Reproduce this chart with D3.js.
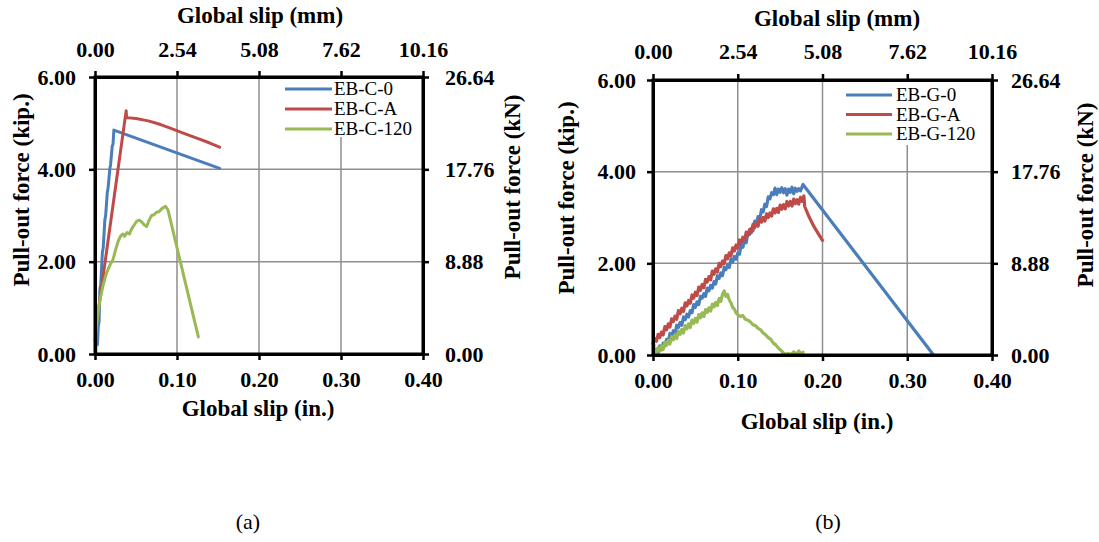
<!DOCTYPE html>
<html>
<head>
<meta charset="utf-8">
<script src="https://cdn.jsdelivr.net/npm/d3@7"></script>
<style>
  html, body { margin: 0; padding: 0; background: #fff; }
  svg { display: block; }
  text { font-family: "Liberation Serif", "Times New Roman", serif; fill: #000; }
</style>
</head>
<body>
<svg id="chart" width="1099" height="542"></svg>
<script>
// ---------- data (slip in inches, force in kip) ----------
const xTicksIn = [0, 0.1, 0.2, 0.3, 0.4];
const xTicksMm = [0, 2.54, 5.08, 7.62, 10.16];
const yTicksKip = [0, 2, 4, 6];
const yTicksKn = [0, 8.88, 17.76, 26.64];

const seriesNamesC = ["EB-C-0", "EB-C-A", "EB-C-120"];
const seriesNamesG = ["EB-G-0", "EB-G-A", "EB-G-120"];
const seriesColors = ["#4A7EBB", "#BE4B48", "#98B954"];
const extraColor = "#7D60A0";

const ebC0 = [[0.003,0.20],[0.004,0.60],[0.005,0.70],[0.006,1.40],[0.007,1.50],[0.009,2.20],[0.010,2.30],
  [0.012,2.90],[0.013,3.00],[0.015,3.50],[0.016,3.60],[0.018,4.00],[0.019,4.10],[0.021,4.50],[0.022,4.55],
  [0.023,4.85],[0.152,4.02]];
const ebCA = [[0.001,0.55],[0.038,5.27],[0.0385,5.12],[0.050,5.10],[0.065,5.05],[0.080,4.97],[0.095,4.87],
  [0.110,4.77],[0.125,4.67],[0.140,4.57],[0.152,4.48]];
const ebC120 = [[0.000,0.30],[0.003,0.80],[0.006,1.17],[0.010,1.50],[0.014,1.75],[0.018,1.92],[0.022,2.05],
  [0.025,2.25],[0.028,2.43],[0.031,2.55],[0.034,2.60],[0.036,2.55],[0.039,2.63],[0.042,2.60],[0.045,2.72],
  [0.048,2.80],[0.051,2.88],[0.054,2.90],[0.057,2.86],[0.060,2.80],[0.063,2.76],[0.066,2.90],[0.069,3.00],
  [0.072,3.02],[0.075,3.07],[0.078,3.08],[0.081,3.14],[0.084,3.18],[0.086,3.20],[0.089,3.12],[0.126,0.37]];
const ebCextra = [[0.001,0.00],[0.001,0.28]];

const ebG0 = [[0.002,0.00],[0.004,0.12],[0.006,0.05],[0.008,0.20],[0.010,0.11],[0.012,0.26],[0.014,0.20],
  [0.016,0.34],[0.018,0.29],[0.020,0.47],[0.022,0.41],[0.024,0.53],[0.026,0.47],[0.028,0.65],[0.030,0.60],
  [0.032,0.71],[0.034,0.65],[0.036,0.83],[0.038,0.77],[0.040,0.89],[0.042,0.83],[0.044,0.97],[0.046,0.92],
  [0.048,1.10],[0.050,1.04],[0.052,1.16],[0.054,1.10],[0.056,1.28],[0.058,1.24],[0.060,1.34],[0.062,1.28],
  [0.064,1.46],[0.066,1.40],[0.068,1.52],[0.070,1.46],[0.072,1.60],[0.074,1.55],[0.076,1.73],[0.078,1.67],
  [0.080,1.79],[0.082,1.73],[0.084,1.91],[0.086,1.86],[0.088,1.97],[0.090,1.91],[0.092,2.09],[0.094,2.03],
  [0.096,2.15],[0.098,2.09],[0.100,2.22],[0.102,2.20],[0.104,2.40],[0.106,2.35],[0.108,2.50],[0.110,2.45],
  [0.112,2.66],[0.114,2.63],[0.116,2.76],[0.118,2.71],[0.120,2.92],[0.122,2.87],[0.124,3.02],[0.126,2.97],
  [0.128,3.17],[0.130,3.12],[0.132,3.29],[0.134,3.24],[0.136,3.45],[0.138,3.41],[0.140,3.54],[0.142,3.50],
  [0.144,3.64],[0.146,3.50],[0.148,3.62],[0.150,3.55],[0.152,3.65],[0.154,3.54],[0.156,3.63],[0.158,3.49],
  [0.160,3.62],[0.162,3.55],[0.164,3.66],[0.166,3.52],[0.168,3.64],[0.170,3.57],[0.172,3.63],[0.174,3.58],
  [0.177,3.72],[0.331,0.00]];
const ebGA = [[0.000,0.25],[0.002,0.36],[0.004,0.30],[0.006,0.45],[0.008,0.38],[0.010,0.50],[0.012,0.44],
  [0.014,0.62],[0.016,0.55],[0.018,0.68],[0.020,0.61],[0.022,0.79],[0.024,0.73],[0.026,0.85],[0.028,0.78],
  [0.030,0.97],[0.032,0.90],[0.034,1.02],[0.036,0.95],[0.038,1.14],[0.040,1.07],[0.042,1.19],[0.044,1.13],
  [0.046,1.31],[0.048,1.24],[0.050,1.37],[0.052,1.30],[0.054,1.48],[0.056,1.41],[0.058,1.54],[0.060,1.47],
  [0.062,1.65],[0.064,1.59],[0.066,1.71],[0.068,1.64],[0.070,1.83],[0.072,1.76],[0.074,1.88],[0.076,1.81],
  [0.078,2.00],[0.080,1.93],[0.082,2.05],[0.084,1.99],[0.086,2.17],[0.088,2.10],[0.090,2.23],[0.092,2.16],
  [0.094,2.34],[0.096,2.27],[0.098,2.40],[0.100,2.33],[0.102,2.51],[0.104,2.45],[0.106,2.57],[0.108,2.50],
  [0.110,2.68],[0.112,2.61],[0.114,2.74],[0.116,2.67],[0.118,2.85],[0.120,2.78],[0.122,2.88],[0.124,2.81],
  [0.126,2.98],[0.128,2.90],[0.130,3.00],[0.132,2.92],[0.134,3.08],[0.136,3.00],[0.138,3.10],[0.140,3.03],
  [0.142,3.19],[0.144,3.10],[0.146,3.20],[0.148,3.11],[0.150,3.27],[0.152,3.18],[0.154,3.28],[0.156,3.19],
  [0.158,3.35],[0.160,3.25],[0.162,3.35],[0.164,3.25],[0.166,3.40],[0.168,3.30],[0.170,3.39],[0.172,3.29],
  [0.174,3.44],[0.176,3.35],[0.178,3.47],[0.179,3.24],[0.184,3.02],[0.190,2.80],[0.195,2.65],[0.200,2.50]];
const ebG120 = [[0.000,0.02],[0.002,0.10],[0.004,0.03],[0.006,0.16],[0.008,0.09],[0.010,0.20],[0.012,0.12],
  [0.014,0.28],[0.016,0.21],[0.018,0.32],[0.020,0.24],[0.022,0.40],[0.024,0.33],[0.026,0.44],[0.028,0.36],
  [0.030,0.52],[0.032,0.45],[0.034,0.56],[0.036,0.48],[0.038,0.64],[0.040,0.57],[0.042,0.68],[0.044,0.60],
  [0.046,0.76],[0.048,0.69],[0.050,0.80],[0.052,0.72],[0.054,0.88],[0.056,0.81],[0.058,0.92],[0.060,0.84],
  [0.062,0.99],[0.064,0.93],[0.066,1.03],[0.068,0.96],[0.070,1.11],[0.072,1.05],[0.074,1.15],[0.076,1.08],
  [0.078,1.23],[0.080,1.17],[0.082,1.32],[0.084,1.40],[0.086,1.28],[0.088,1.32],[0.090,1.20],[0.092,1.14],
  [0.094,1.04],[0.096,1.00],[0.098,0.92],[0.100,0.88],[0.103,0.84],[0.106,0.86],[0.109,0.78],[0.112,0.76],
  [0.115,0.72],[0.118,0.66],[0.121,0.64],[0.124,0.58],[0.127,0.55],[0.130,0.48],[0.133,0.44],[0.136,0.38],
  [0.139,0.34],[0.142,0.26],[0.145,0.22],[0.148,0.15],[0.151,0.10],[0.154,0.04],[0.157,0.02],[0.160,0.03],
  [0.163,0.01],[0.166,0.07],[0.169,0.01],[0.172,0.09],[0.175,0.02],[0.177,0.06]];
const ebGextra = [[0.001,0.00],[0.001,0.25]];

// ---------- drawing ----------
const svg = d3.select("#chart");

function drawChart(cfg) {
  const g = svg.append("g");
  const x = d3.scaleLinear().domain([0, 0.4]).range([cfg.left, cfg.right]);
  const xTop = d3.scaleLinear().domain([0, 10.16]).range([cfg.left, cfg.right]);
  const y = d3.scaleLinear().domain([0, 6]).range([cfg.bottom, cfg.top]);
  const yR = d3.scaleLinear().domain([0, 26.64]).range([cfg.bottom, cfg.top]);

  // gridlines
  g.append("g").selectAll("line").data(xTicksIn.slice(1, -1)).join("line")
    .attr("x1", d => x(d)).attr("x2", d => x(d)).attr("y1", cfg.top).attr("y2", cfg.bottom)
    .attr("stroke", "#8e8e8e").attr("stroke-width", 1.5);
  g.append("g").selectAll("line").data(yTicksKip.slice(1, -1)).join("line")
    .attr("y1", d => y(d)).attr("y2", d => y(d)).attr("x1", cfg.left).attr("x2", cfg.right)
    .attr("stroke", "#8e8e8e").attr("stroke-width", 1.5);

  // series
  const line = d3.line().x(d => x(d[0])).y(d => y(d[1]));
  g.append("path").datum(cfg.extra).attr("d", line).attr("fill", "none")
    .attr("stroke", extraColor).attr("stroke-width", 3);
  cfg.series.forEach((s, i) => {
    g.append("path").datum(s).attr("d", line).attr("fill", "none")
      .attr("stroke", seriesColors[i]).attr("stroke-width", cfg.lw)
      .attr("stroke-linejoin", "round").attr("stroke-linecap", "round");
  });

  // legend
  const lg = cfg.legend;
  g.append("rect").attr("x", lg.boxX).attr("y", lg.boxY).attr("width", lg.boxW).attr("height", lg.boxH)
    .attr("fill", "#fff");
  cfg.names.forEach((n, i) => {
    const yy = lg.y0 + i * lg.dy;
    g.append("line").attr("x1", lg.lx1).attr("x2", lg.lx2).attr("y1", yy).attr("y2", yy)
      .attr("stroke", seriesColors[i]).attr("stroke-width", 3);
    g.append("text").attr("x", lg.tx).attr("y", yy).attr("dy", "0.33em")
      .attr("font-size", 19).text(n);
  });

  // axes
  const fmt = d3.format(".2f");
  function styleAxis(sel) {
    sel.select(".domain").attr("stroke", "#000").attr("stroke-width", 3);
    sel.selectAll(".tick line").attr("stroke", "#000").attr("stroke-width", 2.5);
    sel.selectAll(".tick text").attr("font-size", 22).attr("font-weight", "bold")
      .attr("font-family", "Liberation Serif, Times New Roman, serif").attr("fill", "#000");
  }
  g.append("g").attr("transform", `translate(0,${cfg.bottom})`)
    .call(d3.axisBottom(x).tickValues(xTicksIn).tickFormat(fmt).tickSize(6).tickSizeOuter(0).tickPadding(cfg.padB))
    .call(styleAxis);
  g.append("g").attr("transform", `translate(0,${cfg.top})`)
    .call(d3.axisTop(xTop).tickValues(xTicksMm).tickFormat(fmt).tickSize(6).tickSizeOuter(0).tickPadding(cfg.padT))
    .call(styleAxis);
  g.append("g").attr("transform", `translate(${cfg.left},0)`)
    .call(d3.axisLeft(y).tickValues(yTicksKip).tickFormat(fmt).tickSize(6).tickSizeOuter(0).tickPadding(cfg.padL))
    .call(styleAxis);
  g.append("g").attr("transform", `translate(${cfg.right},0)`)
    .call(d3.axisRight(yR).tickValues(yTicksKn).tickFormat(fmt).tickSize(6).tickSizeOuter(0).tickPadding(cfg.padR))
    .call(styleAxis);
  g.append("rect").attr("x", cfg.left).attr("y", cfg.top).attr("width", cfg.right - cfg.left)
    .attr("height", cfg.bottom - cfg.top).attr("fill", "none").attr("stroke", "#000").attr("stroke-width", 3);

  // titles
  const t = cfg.titles;
  g.append("text").attr("x", t.topX).attr("y", t.topY).attr("text-anchor", "middle")
    .attr("font-size", 23).attr("font-weight", "bold").text("Global slip (mm)");
  g.append("text").attr("x", t.botX).attr("y", t.botY).attr("text-anchor", "middle")
    .attr("font-size", 23).attr("font-weight", "bold").text("Global slip (in.)");
  g.append("text").attr("transform", `translate(${t.leftX},${t.leftY}) rotate(-90)`)
    .attr("text-anchor", "middle").attr("dy", "0.35em")
    .attr("font-size", 23).attr("font-weight", "bold").text("Pull-out force (kip.)");
  g.append("text").attr("transform", `translate(${t.rightX},${t.rightY}) rotate(-90)`)
    .attr("text-anchor", "middle").attr("dy", "0.35em")
    .attr("font-size", 23).attr("font-weight", "bold").text("Pull-out force (kN)");
  g.append("text").attr("x", t.capX).attr("y", 529).attr("text-anchor", "middle")
    .attr("font-size", 22).text(t.cap);
}

drawChart({
  left: 95, right: 423, top: 77, bottom: 354, lw: 3,
  padB: 11, padT: 14, padL: 13, padR: 16,
  series: [ebC0, ebCA, ebC120], extra: ebCextra, names: seriesNamesC,
  legend: { boxX: 280, boxY: 79, boxW: 140, boxH: 58, y0: 89, dy: 20, lx1: 285, lx2: 332, tx: 334 },
  titles: { topX: 260, topY: 23, botX: 258, botY: 416, leftX: 21, leftY: 190, rightX: 512, rightY: 187,
            capX: 248, cap: "(a)" }
});
drawChart({
  left: 653, right: 992, top: 80, bottom: 355, lw: 3.2,
  padB: 11, padT: 15, padL: 11, padR: 13,
  series: [ebG0, ebGA, ebG120], extra: ebGextra, names: seriesNamesG,
  legend: { boxX: 840, boxY: 82, boxW: 148, boxH: 63, y0: 95, dy: 19.5, lx1: 846, lx2: 892, tx: 896 },
  titles: { topX: 837, topY: 26, botX: 817, botY: 429, leftX: 566, leftY: 198, rightX: 1085, rightY: 195,
            capX: 828, cap: "(b)" }
});
</script>
</body>
</html>
